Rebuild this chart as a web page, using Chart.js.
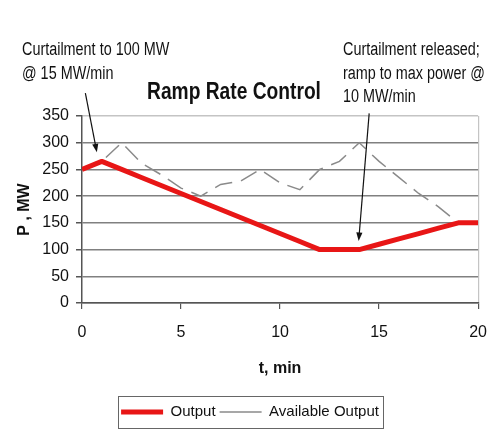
<!DOCTYPE html>
<html>
<head>
<meta charset="utf-8">
<script src="https://cdn.jsdelivr.net/npm/chart.js@4.4.1/dist/chart.umd.min.js"></script>
<style>
  html, body { margin: 0; padding: 0; background: #fff; }
  #wrap { width: 501px; height: 446px; position: relative; }
</style>
</head>
<body>
<div id="wrap"><canvas id="c"></canvas></div>
<script>
  // data (t in minutes, P in MW)
  const minutes   = [0,1,2,3,4,5,6,7,8,9,10,11,12,13,14,15,16,17,18,19,20];
  const output    = [250,265,250,235,220,205,190,175,160,145,130,115,100,100,100,110,120,130,140,150,150];
  const available = [250,265,300,262,240,215,200,222,228,250,225,212,250,265,300,265,235,205,180,150,150];
  const yTicks    = [0,50,100,150,200,250,300,350];
  const xTicks    = [0,5,10,15,20];

  const FONT = "'Liberation Sans', Arial, sans-serif";
  const NARROW = 0.8;   // the original type is a narrow face

  // annotation texts, positions in canvas px
  const notes = [
    { text: "Curtailment to 100 MW", x: 22,  y: 50 },
    { text: "@ 15 MW/min",           x: 22,  y: 74 },
    { text: "Curtailment released;", x: 343, y: 50 },
    { text: "ramp to max power @",   x: 343, y: 74 },
    { text: "10 MW/min",             x: 343, y: 97 }
  ];
  // arrows given in data units: tail -> tip
  const arrows = [
    { from: [0.17, 393], to: [0.75, 282] },
    { from: [14.5, 355], to: [13.97, 116] }
  ];

  const pts = arr => minutes.map((t, i) => ({ x: t, y: arr[i] }));

  function narrowText(ctx, text, x, y){
    ctx.save();
    ctx.translate(x, y);
    ctx.scale(NARROW, 1);
    ctx.fillText(text, 0, 0);
    ctx.restore();
  }

  const annot = {
    id: "annot",
    afterDraw(chart){
      const ctx = chart.ctx;
      const xs = chart.scales.x, ys = chart.scales.y;
      ctx.save();
      ctx.fillStyle = "#111";
      ctx.textBaseline = "middle";
      ctx.textAlign = "left";
      ctx.font = "18px " + FONT;
      notes.forEach(n => narrowText(ctx, n.text, n.x, n.y));

      ctx.font = "bold 24px " + FONT;
      ctx.textAlign = "center";
      narrowText(ctx, "Ramp Rate Control", 234, 92);

      ctx.strokeStyle = "#111";
      ctx.lineWidth = 1.2;
      arrows.forEach(a => {
        const x0 = xs.getPixelForValue(a.from[0]), y0 = ys.getPixelForValue(a.from[1]);
        const x1 = xs.getPixelForValue(a.to[0]),   y1 = ys.getPixelForValue(a.to[1]);
        const ang = Math.atan2(y1 - y0, x1 - x0);
        ctx.beginPath();
        ctx.moveTo(x0, y0);
        ctx.lineTo(x1 - Math.cos(ang) * 6, y1 - Math.sin(ang) * 6);
        ctx.stroke();
        ctx.beginPath();
        ctx.moveTo(x1, y1);
        ctx.lineTo(x1 - Math.cos(ang - 0.35) * 9, y1 - Math.sin(ang - 0.35) * 9);
        ctx.lineTo(x1 - Math.cos(ang + 0.35) * 9, y1 - Math.sin(ang + 0.35) * 9);
        ctx.closePath();
        ctx.fillStyle = "#111";
        ctx.fill();
      });

      // frame round the legend
      const hb = chart.legend && chart.legend.legendHitBoxes;
      if (hb && hb.length){
        const l = Math.min(...hb.map(b => b.left)) - 3;
        const r = Math.max(...hb.map(b => b.left + b.width)) + 4;
        const t = Math.min(...hb.map(b => b.top)) - 9;
        const b = Math.max(...hb.map(b => b.top + b.height)) + 8;
        ctx.strokeStyle = "#666";
        ctx.lineWidth = 1;
        ctx.strokeRect(Math.round(l) + 0.5, Math.round(t) + 0.5, Math.round(r - l), Math.round(b - t));
      }
      ctx.restore();
    }
  };

  new Chart(document.getElementById("c"), {
    type: "line",
    data: {
      datasets: [
        { label: "Output", data: pts(output), borderColor: "rgb(232,22,22)", backgroundColor: "rgb(232,22,22)",
          borderWidth: 5, pointRadius: 0, tension: 0, borderJoinStyle: "round", order: 0 },
        { label: "Available Output", data: pts(available), borderColor: "#8a8a8a", backgroundColor: "#8a8a8a",
          borderWidth: 1.5, borderDash: [18, 9], pointRadius: 0, tension: 0, order: 1 }
      ]
    },
    options: {
      responsive: true,
      maintainAspectRatio: false,
      animation: false,
      layout: { padding: { left: 18, right: 19, top: 116, bottom: 16.5 } },
      plugins: {
        tooltip: { enabled: false },
        legend: {
          position: "bottom",
          labels: {
            usePointStyle: true, pointStyle: "line", pointStyleWidth: 42,
            padding: 4, color: "#111",
            font: { family: FONT, size: 15 }
          }
        }
      },
      scales: {
        x: {
          type: "linear", min: 0, max: 20,
          afterBuildTicks: s => { s.ticks = xTicks.map(v => ({ value: v })); },
          afterFit: s => { s.height = 97.5; },
          grid: {
            color: c => c.tick && c.tick.value === 20 ? "#c4c4c4" : "rgba(0,0,0,0)",
            tickColor: "#555", tickLength: 6, lineWidth: 1.2
          },
          border: { color: "#555", width: 1.5 },
          ticks: { color: "#111", padding: 14, maxRotation: 0, font: { family: FONT, size: 16 } },
          title: { display: true, text: "t, min", color: "#111",
                   font: { family: FONT, size: 16, weight: "bold" }, padding: { top: 0, bottom: 22 } }
        },
        y: {
          min: 0, max: 350,
          afterBuildTicks: s => { s.ticks = yTicks.map(v => ({ value: v })); },
          afterFit: s => { s.width = 64; },
          grid: {
            color: c => c.tick && c.tick.value === 350 ? "#c4c4c4" : "#808080",
            tickColor: "#555", tickLength: 6, lineWidth: 1.5
          },
          border: { color: "#555", width: 1.5 },
          ticks: { color: "#111", padding: 7, font: { family: FONT, size: 16 } },
          title: { display: true, text: "P , MW", color: "#111",
                   font: { family: FONT, size: 16, weight: "bold", lineHeight: 1 }, padding: { top: -1, bottom: 0 } }
        }
      }
    },
    plugins: [annot]
  });
</script>
</body>
</html>
